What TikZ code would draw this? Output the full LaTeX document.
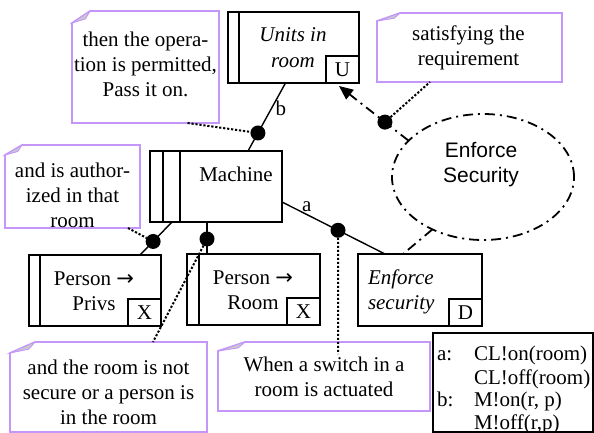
\documentclass[tikz,border=0pt]{standalone}
\usepackage{fontspec}
\setmainfont{Liberation Serif}
\newfontfamily\sansf{Liberation Sans}
\newfontfamily\arrowf{DejaVu Sans}
\usetikzlibrary{arrows.meta,shapes.geometric,calc}
\definecolor{notecol}{RGB}{196,150,250}
\definecolor{foldcol}{RGB}{200,200,205}
\newcommand\drawnote[3]{%
  \draw[notecol, line width=1.6pt, fill=white] ($(#1.north west)+(0,#3)$) -- ($(#1.north west)+(#2,0)$) -- (#1.north east) -- (#1.south east) -- (#1.south west) -- cycle;
  \draw[notecol, line width=0.9pt, fill=foldcol] ($(#1.north west)+(0,#3)$) -- ($(#1.north west)+(#2,0)$) -- ($(#1.north west)+(0.75*#2,0.65*#3)$) -- cycle;
}
\begin{document}
\begin{tikzpicture}[x=1pt,y=-1pt,
  every node/.style={font=\fontsize{21}{25}\selectfont, inner sep=0pt, outer sep=0pt},
  box/.style={draw, line width=1.6pt, rectangle, anchor=north west},
  tag/.style={draw, line width=1.6pt, rectangle, anchor=south east, minimum width=33pt, minimum height=27pt},
  notearea/.style={rectangle, anchor=north west},
  notetxt/.style={align=center},
  conn/.style={line width=1.4pt},
  dotl/.style={line width=2pt, dash pattern=on 2.2pt off 1.8pt},
  dashdotl/.style={line width=1.8pt, dash pattern=on 10pt off 5pt on 2pt off 5pt},
  joint/.style={circle, fill=black, minimum size=15pt},
]
\useasboundingbox (0,0) rectangle (594,433);

% notes
\node[notearea, minimum width=147pt, minimum height=112pt] (n1) at (72,11) {};
\drawnote{n1}{18}{12}
\node[notetxt] (t1) at (145.5,64) {then the opera-\\tion is permitted,\\Pass it on.};

\node[notearea, minimum width=135pt, minimum height=83pt] (n2) at (5,145) {};
\drawnote{n2}{17}{10}
\node[notetxt] (t2) at (72.5,195) {and is author-\\ized in that\\room};

\node[notearea, minimum width=185pt, minimum height=69pt] (n3) at (377,13) {};
\drawnote{n3}{23}{8}
\node[notetxt] (t3) at (468.5,48) {satisfying the\\requirement};

\node[notearea, minimum width=197pt, minimum height=90pt] (n4) at (10,342) {};
\drawnote{n4}{25}{11}
\node[notetxt] (t4) at (108.5,392) {and the room is not\\secure or a person is\\in the room};

\node[notearea, minimum width=212pt, minimum height=69pt] (n5) at (218,342) {};
\drawnote{n5}{27}{9}
\node[notetxt] (t5) at (324,377) {When a switch in a\\room is actuated};

% Units in room
\node[box, minimum width=131pt, minimum height=71pt] (u) at (228,12) {};
\draw[line width=1.6pt] ([xshift=11pt]u.north west) -- ([xshift=11pt]u.south west);
\node[tag] (uU) at (u.south east) {U};
\node[align=center, font=\fontsize{21}{26}\selectfont\itshape] (ut) at (293,48) {Units in\\room};

% Machine
\node[box, minimum width=132pt, minimum height=71pt] (m) at (150,151) {};
\draw[line width=1.6pt] ([xshift=13pt]m.north west) -- ([xshift=13pt]m.south west);
\draw[line width=1.6pt] ([xshift=30pt]m.north west) -- ([xshift=30pt]m.south west);
\node (mt) at (236,174) {Machine};

% Person -> Privs
\node[box, minimum width=132pt, minimum height=71pt] (pp) at (29,255) {};
\draw[line width=1.6pt] ([xshift=11pt]pp.north west) -- ([xshift=11pt]pp.south west);
\node[tag] (ppX) at (pp.south east) {X};
\node[align=center] (ppt) at (94,291) {Person {\arrowf →}\\Privs};

% Person -> Room
\node[box, minimum width=133pt, minimum height=71pt] (pr) at (187,254) {};
\draw[line width=1.6pt] ([xshift=12pt]pr.north west) -- ([xshift=12pt]pr.south west);
\node[tag] (prX) at (pr.south east) {X};
\node[align=center] (prt) at (253,290) {Person {\arrowf →}\\Room};

% Enforce security
\node[box, minimum width=124pt, minimum height=72pt] (ed) at (358,254) {};
\node[tag] (edD) at (ed.south east) {D};
\node[anchor=west, align=left, font=\fontsize{21}{25}\selectfont\itshape] (edt) at (368,292) {Enforce\\security};

% Ellipse
\node[ellipse, draw, dashdotl, minimum width=182pt, minimum height=126pt] (es) at (483,177) {};
\node[align=center, font=\fontsize{21}{25}\selectfont\sansf] (est) at (481,165) {Enforce\\Security};

% connectors
\draw[conn] ([xshift=-8pt]u.south) -- node[joint, pos=0.735] (j1) {} node[pos=0.37, right=4pt] (lb) {b} ([xshift=32pt]m.north);
\draw[conn] ([yshift=-15.5pt]m.east) -- node[joint, pos=0.544] (j2) {} node[pos=0.24, above=3pt] (la) {a} ([xshift=-35pt]ed.north);
\draw[conn] ([xshift=-44pt]m.south) -- node[joint, pos=0.59] (j3) {} ([xshift=-21pt]pp.north east);
\draw[conn] ([xshift=-9pt]m.south) -- node[joint, pos=0.53] (j4) {} ([xshift=20pt]pr.north west);

\draw[dashdotl, -{Triangle[length=14pt,width=12pt]}] (es.154) -- node[joint, pos=0.34] (j5) {} ([xshift=-20pt,yshift=-3pt]u.south east);
\draw[dashdotl] (es.226) -- ([xshift=-17pt]ed.north);

% dotted
\draw[dotl] ([xshift=42pt]n1.south) -- (j1);
\draw[dotl] ([xshift=-12pt]n2.south east) -- (j3);
\draw[dotl] (j4) -- ([xshift=-54pt]n4.north east);
\draw[dotl] (j2) -- ([xshift=120pt,yshift=-12pt]n5.north west);
\draw[dotl] (j5) -- ([xshift=53pt]n3.south west);

% legend
\node[draw, line width=1.1pt, anchor=north west, minimum width=160pt, minimum height=99pt] (lg) at (433,333) {};
\node[anchor=base west] (la1) at (437,360) {a:};
\node[anchor=base west] (lt1) at (474,360) {CL!on(room)};
\node[anchor=base west] (lt2) at (474,384) {CL!off(room)};
\node[anchor=base west] (lb1) at (437,406) {b:};
\node[anchor=base west] (lt3) at (474,406) {M!on(r, p)};
\node[anchor=base west] (lt4) at (474,429) {M!off(r,p)};
\end{tikzpicture}
\end{document}
